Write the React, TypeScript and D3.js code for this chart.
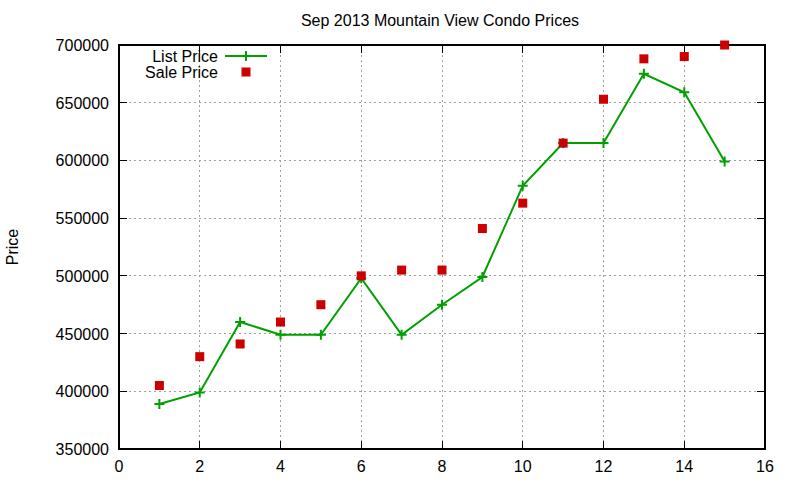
import React, { useRef, useEffect } from 'react';
import * as d3 from 'd3';

const months = [1, 2, 3, 4, 5, 6, 7, 8, 9, 10, 11, 12, 13, 14, 15];
const listPrice = [389000, 399000, 460000, 449000, 449000, 498000, 449000, 475000, 499000, 578000, 615000, 615000, 675000, 659000, 599000];
const salePrice = [405000, 430000, 441000, 460000, 475000, 500000, 505000, 505000, 541000, 563000, 615000, 653000, 688000, 690000, 700000];
const xTicks = [0, 2, 4, 6, 8, 10, 12, 14, 16];
const yTicks = [350000, 400000, 450000, 500000, 550000, 600000, 650000, 700000];

const GREEN = '#00a000';
const RED = '#cc0000';
const FONT = 'Liberation Sans, Arial, sans-serif';
const FS = 16;

const App: React.FC = () => {
  const svgRef = useRef<SVGSVGElement | null>(null);

  useEffect(() => {
    if (!svgRef.current) return;
    const width = 800;
    const height = 480;
    const left = 119, right = 765, top = 45, bottom = 449;

    const svg = d3.select(svgRef.current);
    svg.selectAll('*').remove();
    svg.append('rect').attr('width', width).attr('height', height).attr('fill', 'white');

    const x = d3.scaleLinear().domain([0, 16]).range([left, right]);
    const y = d3.scaleLinear().domain([350000, 700000]).range([bottom, top]);

    // grid
    const grid = svg.append('g')
      .attr('stroke', '#a0a0a0')
      .attr('stroke-width', 1)
      .attr('stroke-dasharray', '2,3')
      .attr('shape-rendering', 'crispEdges');
    xTicks.slice(1, -1).forEach(t => {
      grid.append('line').attr('x1', x(t)).attr('x2', x(t)).attr('y1', top).attr('y2', bottom);
    });
    yTicks.slice(1, -1).forEach(t => {
      grid.append('line').attr('x1', left).attr('x2', right).attr('y1', y(t)).attr('y2', y(t));
    });

    // ticks (inward, mirrored)
    const ticks = svg.append('g').attr('stroke', 'black').attr('stroke-width', 1).attr('shape-rendering', 'crispEdges');
    const tl = 8;
    xTicks.forEach(t => {
      ticks.append('line').attr('x1', x(t)).attr('x2', x(t)).attr('y1', bottom).attr('y2', bottom - tl);
      ticks.append('line').attr('x1', x(t)).attr('x2', x(t)).attr('y1', top).attr('y2', top + tl);
    });
    yTicks.forEach(t => {
      ticks.append('line').attr('x1', left).attr('x2', left + tl).attr('y1', y(t)).attr('y2', y(t));
      ticks.append('line').attr('x1', right).attr('x2', right - tl).attr('y1', y(t)).attr('y2', y(t));
    });

    // border
    svg.append('rect')
      .attr('x', left).attr('y', top)
      .attr('width', right - left).attr('height', bottom - top)
      .attr('fill', 'none').attr('stroke', 'black').attr('stroke-width', 1.5)
      .attr('shape-rendering', 'crispEdges');

    // tick labels
    svg.append('g').selectAll('text').data(xTicks).enter().append('text')
      .attr('x', d => x(d)).attr('y', bottom + 23)
      .attr('text-anchor', 'middle')
      .attr('font-family', FONT).attr('font-size', FS)
      .text(d => String(d));
    svg.append('g').selectAll('text').data(yTicks).enter().append('text')
      .attr('x', left - 10).attr('y', d => y(d) + 6)
      .attr('text-anchor', 'end')
      .attr('font-family', FONT).attr('font-size', FS)
      .text(d => String(d));

    // title & label
    svg.append('text')
      .attr('x', 440).attr('y', 26)
      .attr('text-anchor', 'middle')
      .attr('font-family', FONT).attr('font-size', FS)
      .text('Sep 2013 Mountain View Condo Prices');
    svg.append('text')
      .attr('transform', `translate(18,247) rotate(-90)`)
      .attr('text-anchor', 'middle')
      .attr('font-family', FONT).attr('font-size', FS)
      .text('Price');

    // list price line
    const pts = months.map((m, i) => [m, listPrice[i]] as [number, number]);
    const line = d3.line<[number, number]>().x(d => x(d[0])).y(d => y(d[1]));
    svg.append('path')
      .attr('d', line(pts))
      .attr('fill', 'none').attr('stroke', GREEN).attr('stroke-width', 2);

    const plus = (g: d3.Selection<SVGGElement, unknown, null, undefined>, cx: number, cy: number) => {
      g.append('path')
        .attr('d', `M${cx - 5},${cy}H${cx + 5}M${cx},${cy - 5}V${cy + 5}`)
        .attr('stroke', GREEN).attr('stroke-width', 2).attr('fill', 'none');
    };
    const marks = svg.append('g');
    pts.forEach(p => plus(marks, x(p[0]), y(p[1])));

    // sale price squares
    const sq = 9;
    svg.append('g').selectAll('rect').data(months).enter().append('rect')
      .attr('x', d => x(d) - sq / 2)
      .attr('y', (d, i) => y(salePrice[i]) - sq / 2)
      .attr('width', sq).attr('height', sq)
      .attr('fill', RED);

    // legend
    const lg = svg.append('g');
    lg.append('text')
      .attr('x', 218).attr('y', 62)
      .attr('text-anchor', 'end')
      .attr('font-family', FONT).attr('font-size', FS)
      .text('List Price');
    lg.append('line')
      .attr('x1', 225).attr('x2', 267).attr('y1', 56).attr('y2', 56)
      .attr('stroke', GREEN).attr('stroke-width', 2);
    plus(lg, 246, 56);
    lg.append('text')
      .attr('x', 218).attr('y', 78)
      .attr('text-anchor', 'end')
      .attr('font-family', FONT).attr('font-size', FS)
      .text('Sale Price');
    lg.append('rect')
      .attr('x', 246 - sq / 2).attr('y', 72 - sq / 2)
      .attr('width', sq).attr('height', sq)
      .attr('fill', RED);
  }, []);

  return (
    <svg ref={svgRef} width={800} height={480} style={{ position: 'absolute', left: 0, top: 0 }} />
  );
};

export default App;
